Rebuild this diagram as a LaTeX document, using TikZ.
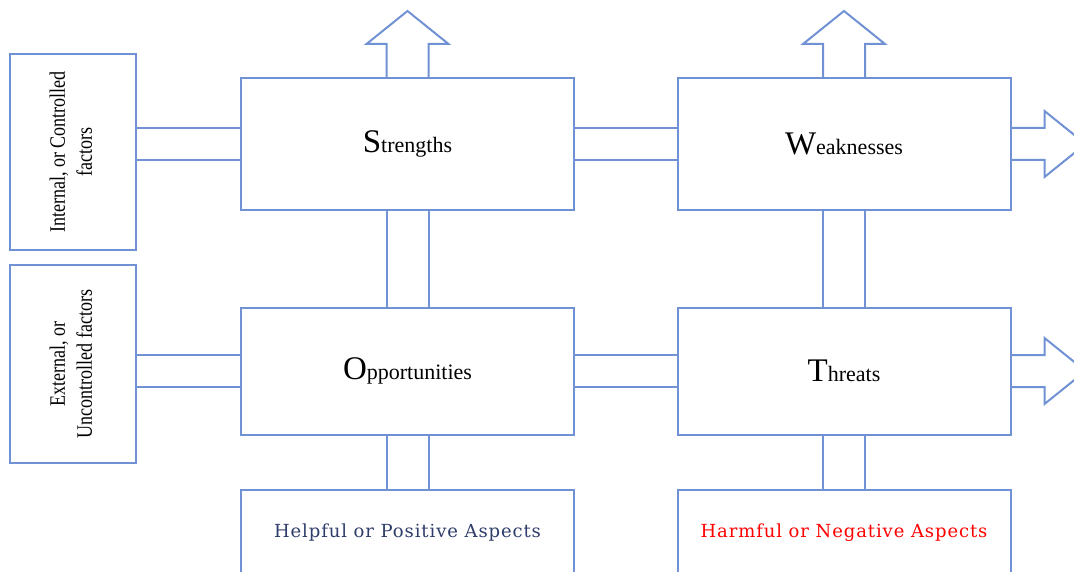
\documentclass[tikz,border=0pt]{standalone}
\usepackage{fontspec}
\setmainfont{Liberation Serif}
\newfontfamily\narrowFont[FakeStretch=0.82]{Liberation Serif}
\newfontfamily\aspectFont[LetterSpace=5]{DejaVu Serif}
\usetikzlibrary{calc, positioning}
\definecolor{swotBlue}{RGB}{112,146,212}
\definecolor{helpNavy}{RGB}{47,61,107}
\tikzset{
    swotBox/.style={rectangle, draw=swotBlue, line width=2pt, fill=white, inner sep=0pt, minimum width=333pt, minimum height=132pt},
    factorBox/.style={rectangle, draw=swotBlue, line width=2pt, fill=white, inner sep=0pt, minimum width=126pt, minimum height=196pt},
    aspectBox/.style={swotBox, minimum height=86pt, font=\aspectFont\fontsize{18}{18}\selectfont},
    pipe/.style={draw=swotBlue, line width=2pt, line join=miter},
}
\newcommand{\bigFirst}[2]{{\fontsize{33}{33}\selectfont #1}{\fontsize{22}{22}\selectfont #2}}
\newcommand{\factorText}[2]{\rotatebox{90}{\narrowFont\fontsize{22}{27}\selectfont\begin{tabular}{@{}c@{}}#1\\#2\end{tabular}}}
\newcommand{\drawPipeH}[2]{
    % two rails, left box to right box
    \draw[pipe] ($(#1.east |- #2.west)+(0,-16)$) -- ($(#2.west)+(0,-16)$);
    \draw[pipe] ($(#1.east |- #2.west)+(0,16)$) -- ($(#2.west)+(0,16)$);
}
\newcommand{\drawPipeV}[2]{
    % two rails, upper box to lower box
    \draw[pipe] ($(#1.south)+(-21,0)$) -- ($(#2.north)+(-21,0)$);
    \draw[pipe] ($(#1.south)+(21,0)$) -- ($(#2.north)+(21,0)$);
}
\newcommand{\drawUpArrow}[1]{
    \draw[pipe] ($(#1.north)+(-21,0)$) -- ++(0,-33) -- ++(-20,0) -- ++(41,-33) -- ++(41,33) -- ++(-20,0) -- ++(0,33);
}
\newcommand{\drawRightArrow}[1]{
    \draw[pipe] ($(#1.east)+(0,-16)$) -- ++(33,0) -- ++(0,-17) -- ++(41,33) -- ++(-41,33) -- ++(0,-17) -- ++(-33,0);
}

\begin{document}
\begin{tikzpicture}[x=1pt, y=-1pt]
    \useasboundingbox (0,0) rectangle (1074,572);
    \clip (0,0) rectangle (1074,572);

    \node[factorBox] (fInt) at (73,152) {\factorText{Internal, or Controlled}{factors}};
    \node[factorBox, minimum height=198pt] (fExt) at (73,364) {\factorText{External, or}{Uncontrolled factors}};

    \node[swotBox] (S) at (407.5,144) {\bigFirst{S}{trengths}};
    \node[swotBox] (W) at (844,144) {\bigFirst{W}{eaknesses}};
    \node[swotBox, minimum height=127pt] (O) at (407.5,371) {\bigFirst{O}{pportunities}};
    \node[swotBox, minimum height=127pt] (T) at (844,371) {\bigFirst{T}{hreats}};

    \node[aspectBox, text=helpNavy] (help) at (407.5,533) {Helpful or Positive Aspects};
    \node[aspectBox, text=red] (harm) at (844,533) {Harmful or Negative Aspects};

    \drawPipeH{fInt}{S}
    \drawPipeH{fExt}{O}
    \drawPipeH{S}{W}
    \drawPipeH{O}{T}
    \drawPipeV{S}{O}
    \drawPipeV{W}{T}
    \drawPipeV{O}{help}
    \drawPipeV{T}{harm}

    \drawUpArrow{S}
    \drawUpArrow{W}
    \drawRightArrow{W}
    \drawRightArrow{T}
\end{tikzpicture}
\end{document}
